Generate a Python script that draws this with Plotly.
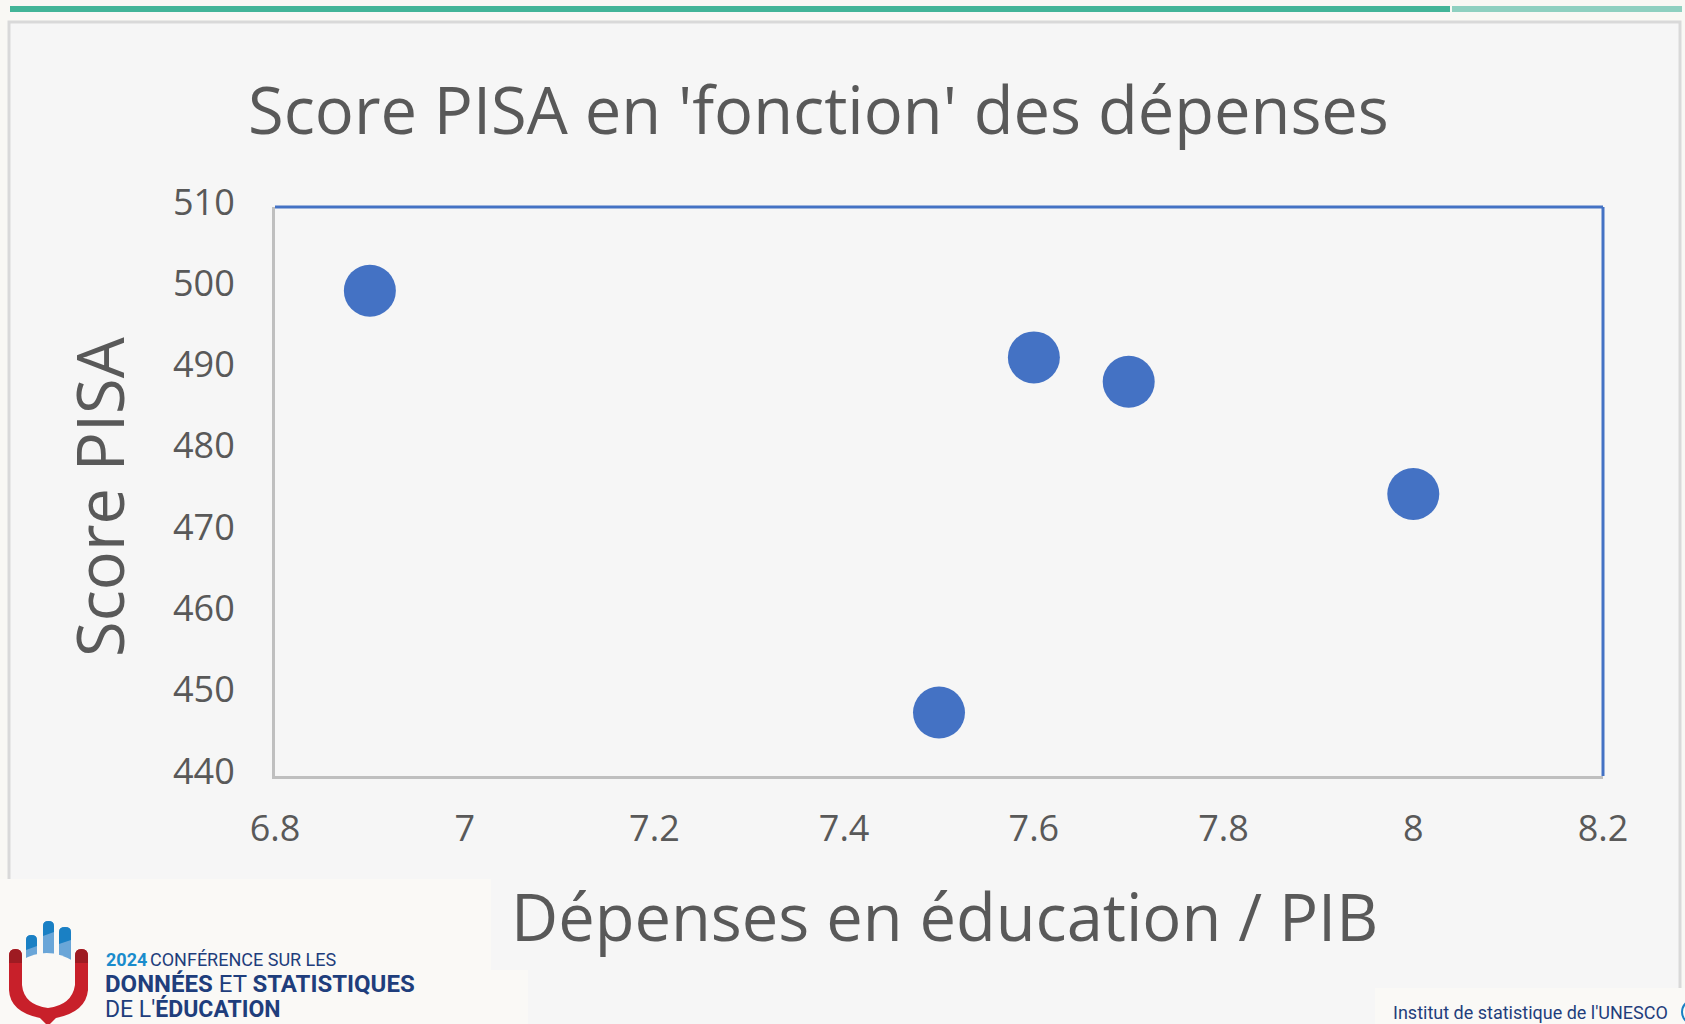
import plotly.graph_objects as go

# ---- data ----
depenses = [6.9, 7.5, 7.6, 7.7, 8.0]          # Dépenses en éducation / PIB
score_pisa = [499.7, 447.8, 491.5, 488.5, 474.7]
x_ticks = [6.8, 7.0, 7.2, 7.4, 7.6, 7.8, 8.0, 8.2]
x_tick_labels = ["6.8", "7", "7.2", "7.4", "7.6", "7.8", "8", "8.2"]
y_ticks = [440, 450, 460, 470, 480, 490, 500, 510]

title_text = "Score PISA en 'fonction' des dépenses"
x_title = "Dépenses en éducation / PIB"
y_title = "Score PISA"

W, H = 1685, 1024
L, R, T, B = 275, 1603, 207, 776  # plot area in pixels


def PX(X):
    return (X - L) / (R - L)


def PY(Y):
    return (B - Y) / (B - T)


def pt(x, y):
    return f"{PX(x):.5f},{PY(y):.5f}"


GREY = "#595959"
BLUE = "#4472c4"

fig = go.Figure()
fig.add_trace(go.Scatter(
    x=depenses, y=score_pisa, mode="markers",
    marker=dict(size=52, color=BLUE, line=dict(width=0)),
    showlegend=False, hoverinfo="x+y",
))

shapes = []
# page panel
shapes.append(dict(type="rect", xref="paper", yref="paper", layer="below",
                   x0=PX(9), x1=PX(1680), y0=PY(22), y1=PY(1040),
                   fillcolor="#f6f6f6", line=dict(color="#d9d9d9", width=3)))
# logo box bottom left
shapes.append(dict(type="rect", xref="paper", yref="paper", layer="below",
                   x0=PX(-5), x1=PX(491), y0=PY(879), y1=PY(1040),
                   fillcolor="#faf9f6", line=dict(width=0)))
shapes.append(dict(type="rect", xref="paper", yref="paper", layer="below",
                   x0=PX(-5), x1=PX(528), y0=PY(970), y1=PY(1040),
                   fillcolor="#faf9f6", line=dict(width=0)))
# UNESCO box bottom right
shapes.append(dict(type="rect", xref="paper", yref="paper", layer="below",
                   x0=PX(1375), x1=PX(1690), y0=PY(988), y1=PY(1040),
                   fillcolor="#faf9f6", line=dict(width=0)))
# green progress bar
shapes.append(dict(type="line", xref="paper", yref="paper", layer="below",
                   x0=PX(1452), x1=PX(1682), y0=PY(9), y1=PY(9),
                   line=dict(color="#8fd0c0", width=6)))
shapes.append(dict(type="line", xref="paper", yref="paper", layer="below",
                   x0=PX(10), x1=PX(1450), y0=PY(9), y1=PY(9),
                   line=dict(color="#43b597", width=6)))
# plot border: top and right in blue
shapes.append(dict(type="line", xref="paper", yref="paper", layer="above",
                   x0=0, x1=1, y0=1, y1=1, line=dict(color=BLUE, width=3)))
shapes.append(dict(type="line", xref="paper", yref="paper", layer="above",
                   x0=1, x1=1, y0=0, y1=1, line=dict(color=BLUE, width=3)))

# logo: blue fingers (light lower part, dark top)
for x0, x1, yt, ydark, yb in [(26, 37, 935, 950, 972), (43, 54, 921, 936, 962), (59, 71, 927, 944, 972)]:
    xm = (x0 + x1) / 2
    light = (f"M {pt(x0, yb)} L {pt(x0, yt + 5)} Q {pt(x0, yt)} {pt(xm, yt)} "
             f"Q {pt(x1, yt)} {pt(x1, yt + 5)} L {pt(x1, yb)} Z")
    dark = (f"M {pt(x0, ydark)} L {pt(x0, yt + 5)} Q {pt(x0, yt)} {pt(xm, yt)} "
            f"Q {pt(x1, yt)} {pt(x1, yt + 5)} L {pt(x1, ydark - 4)} Z")
    shapes.append(dict(type="path", xref="paper", yref="paper", layer="above",
                       path=light, fillcolor="#6aa6d8", line=dict(width=0)))
    shapes.append(dict(type="path", xref="paper", yref="paper", layer="above",
                       path=dark, fillcolor="#1a80c4", line=dict(width=0)))
# palm cut-out (covers finger bottoms with a curved edge)
palm = (f"M {pt(22, 960)} Q {pt(48, 945)} {pt(75, 962)} L {pt(75, 990)} L {pt(22, 990)} Z")
shapes.append(dict(type="path", xref="paper", yref="paper", layer="above",
                   path=palm, fillcolor="#faf9f6", line=dict(width=0)))
# logo: red U
red_u = (f"M {pt(9, 956)} Q {pt(9, 949)} {pt(15.5, 949)} Q {pt(22, 949)} {pt(22, 956)} "
         f"L {pt(22, 985)} Q {pt(24, 1005)} {pt(48, 1008)} Q {pt(72, 1005)} {pt(75, 985)} "
         f"L {pt(75, 956)} Q {pt(75, 949)} {pt(81.5, 949)} Q {pt(88, 949)} {pt(88, 956)} "
         f"L {pt(88, 990)} Q {pt(86, 1012)} {pt(56, 1018)} L {pt(48, 1026)} L {pt(40, 1018)} "
         f"Q {pt(10, 1012)} {pt(9, 990)} Z")
shapes.append(dict(type="path", xref="paper", yref="paper", layer="above",
                   path=red_u, fillcolor="#c8202a", line=dict(width=0)))
for x0, x1 in [(9, 22), (75, 88)]:
    xm = (x0 + x1) / 2
    cap = (f"M {pt(x0, 963)} L {pt(x0, 956)} Q {pt(x0, 949)} {pt(xm, 949)} "
           f"Q {pt(x1, 949)} {pt(x1, 956)} L {pt(x1, 963)} Z")
    shapes.append(dict(type="path", xref="paper", yref="paper", layer="above",
                       path=cap, fillcolor="#9e1b22", line=dict(width=0)))
# small UNESCO circle at right edge
shapes.append(dict(type="circle", xref="paper", yref="paper", layer="above",
                   x0=PX(1682), x1=PX(1706), y0=PY(1000), y1=PY(1024),
                   line=dict(color="#1a80c4", width=2), fillcolor="rgba(0,0,0,0)"))

CONDENSED = "Liberation Sans Narrow, Roboto"
annotations = [
    dict(text=title_text, x=PX(818), y=PY(109), xref="paper", yref="paper",
         showarrow=False, xanchor="center", yanchor="middle",
         font=dict(family="Open Sans", size=65, color=GREY)),
    dict(text=x_title, x=PX(945), y=PY(916), xref="paper", yref="paper",
         showarrow=False, xanchor="center", yanchor="middle",
         font=dict(family="Open Sans", size=65, color=GREY)),
    dict(text=y_title, x=PX(99), y=PY(497), xref="paper", yref="paper",
         showarrow=False, xanchor="center", yanchor="middle", textangle=-90,
         font=dict(family="Open Sans", size=65, color=GREY)),
    # logo texts
    dict(text="<b>2024</b>", x=PX(104), y=PY(959), xref="paper", yref="paper",
         showarrow=False, xanchor="left", yanchor="middle",
         font=dict(family=CONDENSED, size=18, color="#1a8ccc")),
    dict(text="CONFÉRENCE SUR LES", x=PX(148), y=PY(959), xref="paper", yref="paper",
         showarrow=False, xanchor="left", yanchor="middle",
         font=dict(family=CONDENSED, size=18, color="#1f3e7c")),
    dict(text="<b>DONNÉES</b> ET <b>STATISTIQUES</b>", x=PX(103), y=PY(984), xref="paper", yref="paper",
         showarrow=False, xanchor="left", yanchor="middle",
         font=dict(family=CONDENSED, size=24, color="#1f3e7c")),
    dict(text="DE L'<b>ÉDUCATION</b>", x=PX(103), y=PY(1009), xref="paper", yref="paper",
         showarrow=False, xanchor="left", yanchor="middle",
         font=dict(family=CONDENSED, size=23, color="#1f3e7c")),
    dict(text="Institut de statistique de l'UNESCO", x=PX(1530), y=PY(1012), xref="paper", yref="paper",
         showarrow=False, xanchor="center", yanchor="middle",
         font=dict(family=CONDENSED, size=18, color="#1f3e7c")),
]

fig.update_layout(
    width=W, height=H,
    margin=dict(l=L, r=W - R, t=T, b=H - B, pad=0),
    paper_bgcolor="#f9f8f4",
    plot_bgcolor="rgba(0,0,0,0)",
    shapes=shapes,
    annotations=annotations,
    showlegend=False,
)
fig.update_xaxes(
    range=[6.8, 8.2], tickvals=x_ticks, ticktext=x_tick_labels,
    showgrid=False, zeroline=False, showline=True, linecolor="#bfbfbf", linewidth=3,
    ticks="", ticklabelstandoff=19,
    tickfont=dict(family="Open Sans", size=36, color=GREY),
)
fig.update_yaxes(
    range=[440, 510], tickvals=y_ticks,
    showgrid=False, zeroline=False, showline=True, linecolor="#bfbfbf", linewidth=3,
    ticks="", ticklabelstandoff=30, ticklabelshift=-5,
    tickfont=dict(family="Open Sans", size=36, color=GREY),
)

fig.write_html("out.html", config={"displayModeBar": False},
               post_script="document.body.style.margin='0';document.body.style.overflow='hidden';")
